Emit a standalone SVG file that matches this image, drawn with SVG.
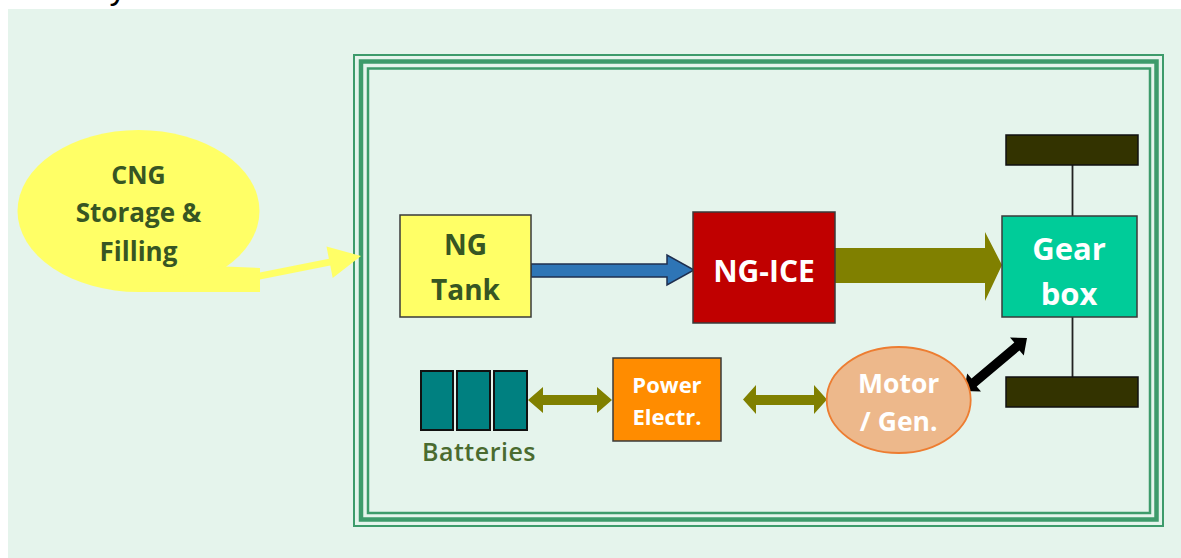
<svg xmlns="http://www.w3.org/2000/svg" width="1181" height="558" viewBox="0 0 1181 558">
<style>
.t{font-family:"Open Sans","Liberation Sans",sans-serif;font-weight:700;text-anchor:middle}
.dg{fill:#375623}
.wh{fill:#ffffff}
.box{stroke:#3a3a3a;stroke-width:1.5}
.frame{fill:none;stroke:#3d9b6b}
.olive{fill:#808000}
</style>
<rect x="0" y="0" width="1181" height="558" fill="#ffffff"/>
<text x="118" y="-1" font-family="Liberation Sans, sans-serif" font-size="34" fill="#000000" text-anchor="middle">y</text>
<rect x="8" y="9" width="1173" height="549" fill="#e5f4ec"/>
<g id="frame">
<rect class="frame" x="354" y="55" width="809" height="471" stroke-width="2"/>
<rect class="frame" x="361" y="61.5" width="795.5" height="458" stroke-width="4.5"/>
<rect class="frame" x="368" y="68.5" width="782" height="444.5" stroke-width="2.5"/>
</g>
<g id="cng">
<ellipse cx="138.5" cy="211" rx="121" ry="81" fill="#ffff66"/>
<polygon points="212,266 260,268 260,292 138,292" fill="#ffff66"/>
<text class="t dg" x="138.5" y="184" font-size="25">CNG</text>
<text class="t dg" x="138.5" y="222" font-size="26">Storage &amp;</text>
<text class="t dg" x="138.5" y="261" font-size="26">Filling</text>
</g>
<g id="connectors">
<polygon points="257.3,273 328.9,258.8 326.5,246.5 361,256 332.7,277.9 330.3,265.6 258.7,279.8" fill="#ffff66"/>
<polygon points="531,264 667,264 667,255 694,270 667,285 667,277 531,277" fill="#2e75b6" stroke="#1f2f4f" stroke-width="1.5"/>
<polygon class="olive" points="835,248 985,248 985,232 1002,265 985,301 985,283 835,283"/>
<polygon class="olive" points="528,400 543,387 543,395 597,395 597,387 612,400 597,413 597,405 543,405 543,413"/>
<polygon class="olive" points="743,399.5 756,385 756,395 814,395 814,385 827,399.5 814,414 814,405 756,405 756,414"/>
<polygon points="964,391 967.2,373.5 971.5,378.6 1014.3,342.6 1010,337.5 1027,338 1023.8,355.5 1019.5,350.4 976.7,386.4 981,391.5" fill="#000000"/>
<line x1="1072.5" y1="165" x2="1072.5" y2="216" stroke="#222" stroke-width="1.8"/>
<line x1="1072.5" y1="317" x2="1072.5" y2="377" stroke="#222" stroke-width="1.8"/>
</g>
<g id="ngtank">
<rect class="box" x="400" y="215" width="131" height="102" fill="#ffff66"/>
<text class="t dg" x="465.5" y="255" font-size="28">NG</text>
<text class="t dg" x="465.5" y="300" font-size="28">Tank</text>
</g>
<g id="ngice">
<rect class="box" x="693" y="212" width="142" height="111" fill="#c00000"/>
<text class="t wh" x="764" y="282" font-size="30">NG-ICE</text>
</g>
<g id="wheel-top">
<rect x="1006" y="135" width="132" height="30" fill="#333300" stroke="#111" stroke-width="1.5"/>
</g>
<g id="wheel-bottom">
<rect x="1006" y="377" width="132" height="30" fill="#333300" stroke="#111" stroke-width="1.5"/>
</g>
<g id="gearbox">
<rect class="box" x="1002" y="216" width="135" height="101" fill="#00cc99"/>
<text class="t wh" x="1069" y="260" font-size="31">Gear</text>
<text class="t wh" x="1069" y="305" font-size="31">box</text>
</g>
<g id="batteries">
<rect x="421" y="371" width="32" height="59" fill="#008080" stroke="#111" stroke-width="2"/>
<rect x="457" y="371" width="33" height="59" fill="#008080" stroke="#111" stroke-width="2"/>
<rect x="494" y="371" width="33" height="59" fill="#008080" stroke="#111" stroke-width="2"/>
<text class="t" x="479" y="461" font-size="25" fill="#4a6b2f" style="font-weight:600" letter-spacing="0.5">Batteries</text>
</g>
<g id="power">
<rect class="box" x="613" y="358" width="108" height="83" fill="#ff8c00"/>
<text class="t wh" x="667" y="393" font-size="22">Power</text>
<text class="t wh" x="667" y="425" font-size="22">Electr.</text>
</g>
<g id="motor">
<ellipse cx="898.7" cy="400" rx="72" ry="53" fill="#edb88b" stroke="#ed7d31" stroke-width="1.8"/>
<text class="t wh" x="898.7" y="393" font-size="26.5">Motor</text>
<text class="t wh" x="898.7" y="431" font-size="26.5">/ Gen.</text>
</g>
</svg>
